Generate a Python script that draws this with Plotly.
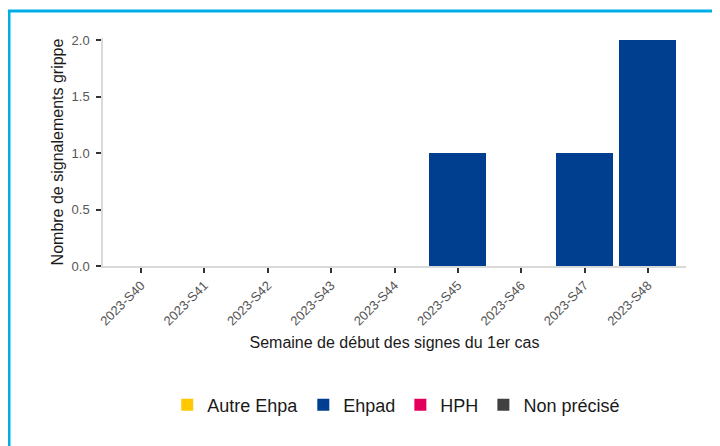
import plotly.graph_objects as go

weeks = ["2023-S40", "2023-S41", "2023-S42", "2023-S43", "2023-S44",
         "2023-S45", "2023-S46", "2023-S47", "2023-S48"]
autre_ehpa = [0, 0, 0, 0, 0, 0, 0, 0, 0]
ehpad = [0, 0, 0, 0, 0, 1, 0, 1, 2]
hph = [0, 0, 0, 0, 0, 0, 0, 0, 0]
non_precise = [0, 0, 0, 0, 0, 0, 0, 0, 0]

series = [
    ("Autre Ehpa", autre_ehpa, "#FFC800"),
    ("Ehpad", ehpad, "#003F8F"),
    ("HPH", hph, "#E4005A"),
    ("Non précisé", non_precise, "#404040"),
]

fig = go.Figure()
for name, vals, col in series:
    fig.add_trace(go.Bar(x=weeks, y=vals, name=name, marker_color=col,
                         marker_line_width=0, width=0.9))

L, R, T, B = 95, 42, 30, 188
pw = 720 - L - R
ph = 446 - T - B

fig.update_layout(
    width=720, height=446,
    barmode="stack",
    margin=dict(l=L, r=R, t=T, b=B),
    paper_bgcolor="white", plot_bgcolor="white",
    font=dict(family="Liberation Sans, Arial, sans-serif", color="#1a1a1a"),
    xaxis=dict(
        type="category", range=[-0.6, 8.6],
        showline=True, linecolor="#d9d9d9", linewidth=1.5,
        ticks="outside", ticklen=5, tickwidth=2, tickcolor="#333333",
        tickangle=-45, tickfont=dict(size=13, color="#555555"),
        title=dict(text="Semaine de début des signes du 1er cas",
                   font=dict(size=16, color="#1a1a1a"), standoff=9),
        showgrid=False, zeroline=False,
    ),
    yaxis=dict(
        range=[0, 2.02],
        tickvals=[0, 0.5, 1.0, 1.5, 2.0],
        ticktext=["0.0", "0.5", "1.0", "1.5", "2.0"],
        showline=True, linecolor="#d9d9d9", linewidth=1.5,
        ticks="outside", ticklen=5, tickwidth=2, tickcolor="#333333",
        tickfont=dict(size=13, color="#555555"),
        ticklabelstandoff=4,
        title=dict(text="Nombre de signalements grippe",
                   font=dict(size=16, color="#1a1a1a"), standoff=4),
        showgrid=False, zeroline=False,
    ),
    legend=dict(
        orientation="h", x=0.503, xanchor="center",
        y=(T + ph - 397) / ph, yanchor="middle",
        font=dict(size=18, color="#1a1a1a"),
        traceorder="normal",
    ),
    shapes=[
        dict(type="line", xref="paper", yref="paper",
             x0=(0 - L) / pw, x1=(730 - L) / pw,
             y0=(T + ph - 3) / ph, y1=(T + ph - 3) / ph,
             line=dict(color="#00AEE6", width=3)),
        dict(type="line", xref="paper", yref="paper",
             x0=(1 - L) / pw, x1=(1 - L) / pw,
             y0=(T + ph - 3) / ph, y1=(T + ph - 460) / ph,
             line=dict(color="#00AEE6", width=3)),
    ],
)

fig.write_html("out.html")
